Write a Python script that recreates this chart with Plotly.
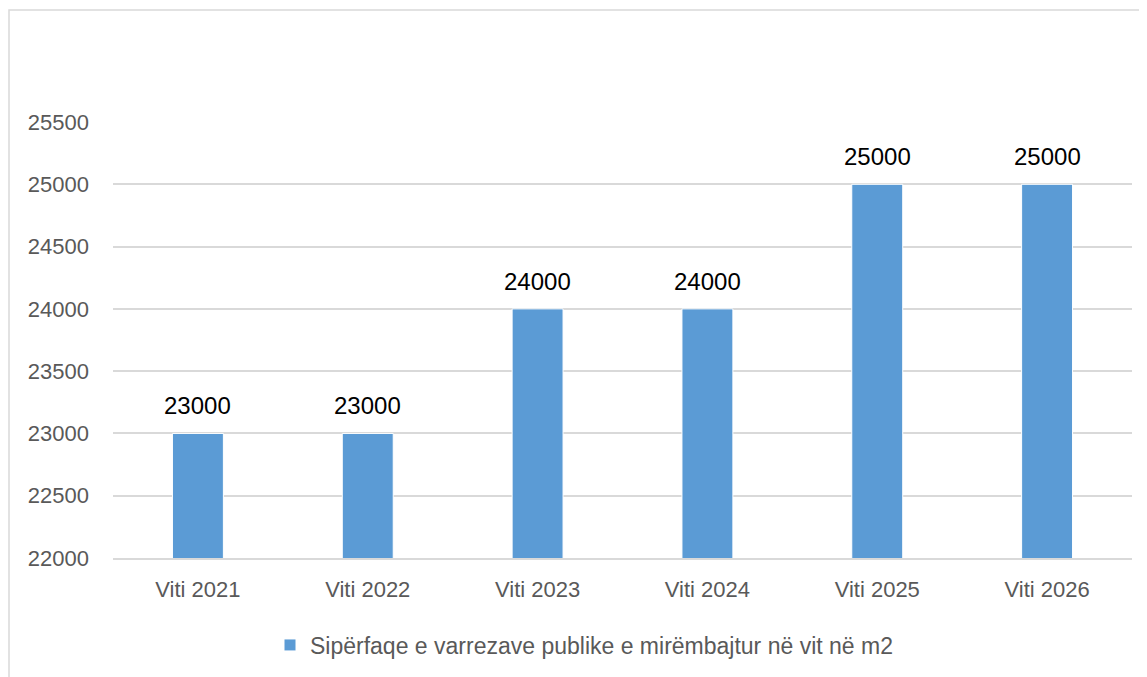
import plotly.graph_objects as go

categories = ["Viti 2021", "Viti 2022", "Viti 2023", "Viti 2024", "Viti 2025", "Viti 2026"]
values = [23000, 23000, 24000, 24000, 25000, 25000]
series_name = "Sipërfaqe e varrezave publike e mirëmbajtur në vit në m2"
y_ticks = [22000, 22500, 23000, 23500, 24000, 24500, 25000, 25500]
y_tick_labels = [str(v) for v in y_ticks]

W, H = 1147, 677
OFF = 8  # page body margin
L, R, T, B = 113 - OFF, 15 + OFF, 122 - OFF, 119 + OFF
pw, ph = W - L - R, H - T - B

fig = go.Figure()
fig.add_trace(go.Bar(
    x=categories, y=values, name=series_name,
    marker=dict(color="#5b9bd5", line=dict(color="#ffffff", width=1)),
    cliponaxis=False, showlegend=True,
))

for c, v in zip(categories, values):
    fig.add_annotation(
        x=c, y=v, xref="x", yref="y", text=str(v), showarrow=False,
        yanchor="bottom", yshift=12,
        font=dict(family="Liberation Sans, Arial", size=24, color="#000000"),
    )

fig.update_layout(
    width=W, height=H,
    margin=dict(l=L, r=R, t=T, b=B),
    paper_bgcolor="white", plot_bgcolor="white",
    bargap=0.7,
    font=dict(family="Liberation Sans, Arial", color="#595959"),
    showlegend=True,
    legend=dict(
        orientation="h", x=(584 - 113) / pw, xanchor="center",
        y=-(645 - 558) / ph, yanchor="middle",
        font=dict(family="Liberation Sans, Arial", size=23, color="#595959"),
        itemwidth=30,
    ),
    xaxis=dict(
        showgrid=False, showline=True, linecolor="#d9d9d9", linewidth=1.5,
        ticks="", tickfont=dict(size=22, color="#595959"),
        ticklabelstandoff=11,
    ),
    yaxis=dict(
        range=[22000, 25500], tickvals=y_ticks, ticktext=y_tick_labels,
        showgrid=True, gridcolor="#d9d9d9", gridwidth=1.5,
        zeroline=False, showline=False, ticks="",
        tickfont=dict(size=22, color="#595959"),
        ticklabelstandoff=23,
    ),
    shapes=[dict(
        type="rect", xref="paper", yref="paper",
        x0=(9 - 113) / pw, x1=1.2,
        y0=-0.5, y1=(558 - 10) / ph,
        line=dict(color="#d9d9d9", width=1.5), layer="below",
    )],
)

fig.write_html("out.html")
